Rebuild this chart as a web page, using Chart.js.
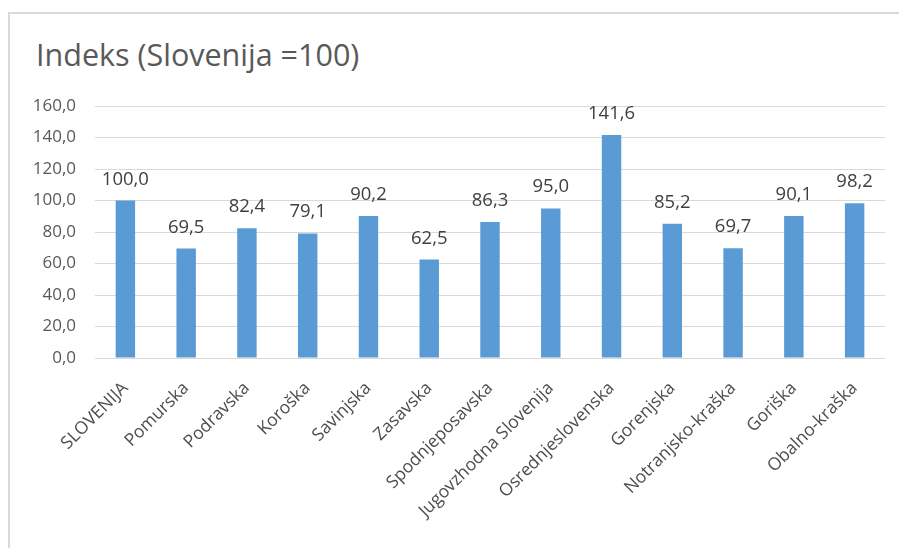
<!DOCTYPE html>
<html>
<head>
<meta charset="utf-8">
<script src="https://cdn.jsdelivr.net/npm/chart.js@4"></script>
<style>
  html, body { margin: 0; padding: 0; background: #fff; overflow: hidden; }
  #wrap { position: relative; width: 899px; height: 548px; overflow: hidden; }
  #frame { position: absolute; left: 8px; top: 12px; width: 900px; height: 560px;
           border-top: 2px solid #d9d9d9; border-left: 2px solid #d9d9d9; }
  #title { position: absolute; left: 36px; top: 33px; font-family: "Open Sans", sans-serif;
           font-size: 30.5px; color: #595959; white-space: nowrap; }
  canvas { position: absolute; left: 0; top: 0; }
</style>
</head>
<body>
<div id="wrap">
  <div id="frame"></div>
  <div id="title">Indeks (Slovenija =100)</div>
  <canvas id="chart" width="899" height="548"></canvas>
</div>
<script>
// regije
const regions = [
  "SLOVENIJA", "Pomurska", "Podravska", "Koroška", "Savinjska", "Zasavska",
  "Spodnjeposavska", "Jugovzhodna Slovenija", "Osrednjeslovenska", "Gorenjska",
  "Notranjsko-kraška", "Goriška", "Obalno-kraška"
];
const indexValues = [100.0, 69.5, 82.4, 79.1, 90.2, 62.5, 86.3, 95.0, 141.6, 85.2, 69.7, 90.1, 98.2];
const yTicks = [0, 20, 40, 60, 80, 100, 120, 140, 160];

const fmt = v => v.toFixed(1).replace(".", ",");

// oznake nad stolpci
const barLabels = {
  id: "barLabels",
  afterDatasetsDraw(chart) {
    const ctx = chart.ctx;
    const meta = chart.getDatasetMeta(0);
    ctx.save();
    ctx.font = '18.5px "Open Sans", sans-serif';
    ctx.fillStyle = "#404040";
    ctx.textAlign = "center";
    ctx.textBaseline = "bottom";
    meta.data.forEach((bar, i) => {
      ctx.fillText(fmt(indexValues[i]), bar.x, bar.y - 12);
    });
    ctx.restore();
  }
};

new Chart(document.getElementById("chart"), {
  type: "bar",
  data: {
    labels: regions,
    datasets: [{
      data: indexValues,
      backgroundColor: "#5b9bd5",
      barPercentage: 0.32,
      categoryPercentage: 1.0
    }]
  },
  options: {
    responsive: false,
    animation: false,
    layout: { padding: { left: 0, right: 14, top: 106, bottom: 0 } },
    plugins: { legend: { display: false }, tooltip: { enabled: false } },
    scales: {
      x: {
        grid: { display: false },
        border: { display: false },
        ticks: {
          minRotation: 45, maxRotation: 45, autoSkip: false, padding: 12,
          color: "#4d4d4d",
          font: { family: "Open Sans", size: 17.5 }
        },
        afterFit: s => { s.height = 190; }
      },
      y: {
        min: 0, max: 160,
        afterBuildTicks: s => { s.ticks = yTicks.map(v => ({ value: v })); },
        grid: { color: "#d9d9d9", lineWidth: 1, drawTicks: false },
        border: { display: false },
        ticks: {
          padding: 19,
          color: "#595959",
          font: { family: "Open Sans", size: 17 },
          callback: v => fmt(v)
        },
        afterFit: s => { s.width = 95; }
      }
    }
  },
  plugins: [barLabels]
});
</script>
</body>
</html>
